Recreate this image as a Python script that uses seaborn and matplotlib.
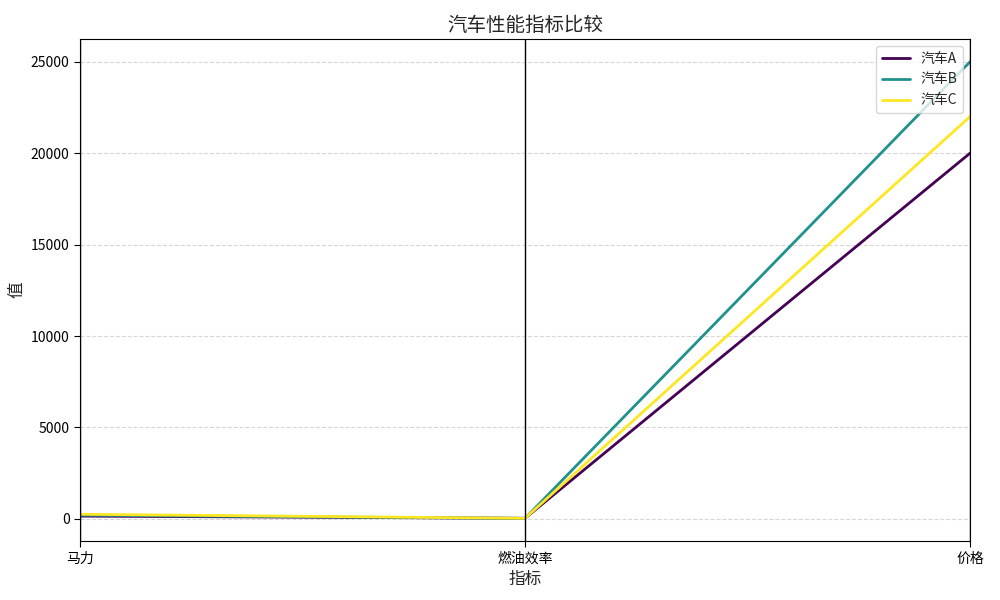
import pandas as pd
import numpy as np
import seaborn as sns
import matplotlib.pyplot as plt

sns.set_style("white")
plt.rcParams['font.family'] = ['Noto Sans CJK SC', 'DejaVu Sans']
plt.rcParams['axes.unicode_minus'] = False

# Car data
cars = ['汽车A', '汽车B', '汽车C']
metrics = ['马力', '燃油效率', '价格']
horsepower = [150, 200, 250]
fuel_eff = [30, 25, 28]
price = [20000, 25000, 22000]

df = pd.DataFrame({'car': cars, '马力': horsepower, '燃油效率': fuel_eff, '价格': price})
long_df = df.melt(id_vars='car', value_vars=metrics, var_name='metric', value_name='value')

colors = [plt.cm.viridis(v) for v in np.linspace(0, 1, len(cars))]

fig, ax = plt.subplots(figsize=(10, 6), dpi=100)
sns.lineplot(data=long_df, x='metric', y='value', hue='car', palette=colors,
             linewidth=2, sort=False, ax=ax)

for i in range(len(metrics)):
    ax.axvline(i, color='black', linewidth=1)

ax.set_xlim(0, len(metrics) - 1)
ax.grid(True, axis='y', linestyle='--', color='#b0b0b0', alpha=0.5)
ax.set_title('汽车性能指标比较', fontsize=14)
ax.set_xlabel('指标', fontsize=12)
ax.set_ylabel('值', fontsize=12)
ax.legend(loc='upper right', title=None)
for s in ax.spines.values():
    s.set_color('black')
ax.tick_params(axis='both', length=4, colors='black', left=True, bottom=True)

fig.subplots_adjust(left=0.08, right=0.97, top=0.935, bottom=0.098)
plt.savefig('out.png')
